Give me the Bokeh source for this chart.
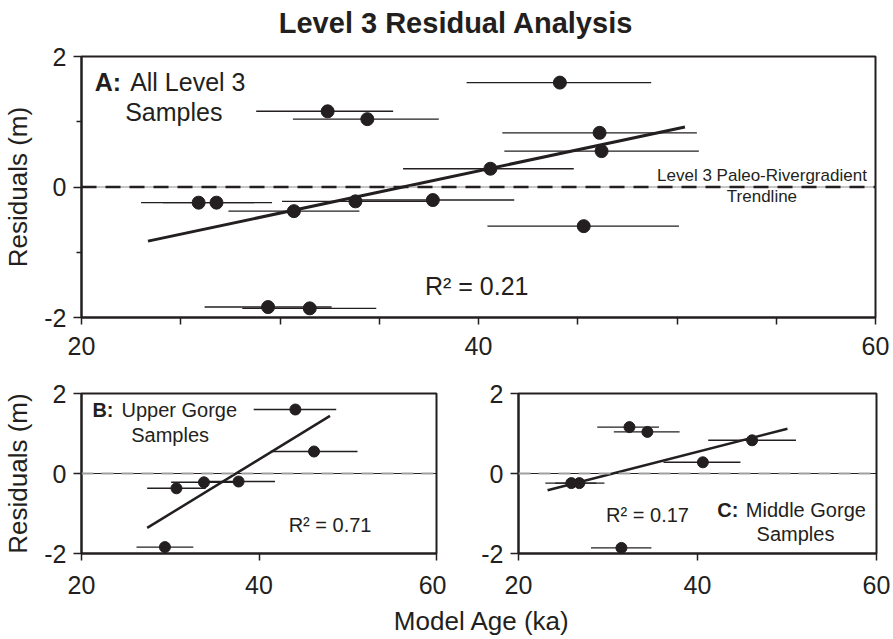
from bokeh.plotting import figure
from bokeh.models import Range1d, FixedTicker, Span, Label, ColumnDataSource
from bokeh.layouts import column, row
from bokeh.embed import file_html
from bokeh.resources import INLINE

FONT = "Liberation Sans"
INK = "#231f20"

# ---- data ----
ages   = [44.1, 32.4, 34.4, 46.1, 46.2, 40.6, 25.9, 26.8, 30.7, 33.8, 37.7, 45.3, 29.4, 31.5]
resid  = [1.60, 1.16, 1.04, 0.83, 0.55, 0.28, -0.24, -0.24, -0.37, -0.22, -0.20, -0.60, -1.84, -1.86]
age_lo = [39.4, 28.8, 30.65, 41.2, 41.3, 36.2, 23.0, 24.1, 27.4, 30.1, 33.5, 40.45, 26.2, 28.1]
age_hi = [48.7, 35.7, 38.0, 51.0, 51.1, 44.8, 28.7, 29.6, 34.0, 37.5, 41.8, 50.1, 32.6, 34.85]
group  = ["upper", "middle", "middle", "middle", "upper", "middle", "middle", "middle",
          "upper", "upper", "upper", "other", "upper", "middle"]

trend_all_x = [23.35, 50.4]
trend_all_y = [-0.83, 0.92]
trend_upper_x = [27.4, 48.0]
trend_upper_y = [-1.36, 1.44]
trend_middle_x = [23.25, 50.05]
trend_middle_y = [-0.42, 1.12]

x_ticks = [20, 40, 60]
x_minor_top = [25, 30, 35, 45, 50, 55]
y_ticks = [-2, 0, 2]
y_minor_top = [-1, 1]
y_tick_labels = {-2: "-2", 0: "0", 2: "2"}


def subset(name):
    idx = [i for i, g in enumerate(group) if g == name]
    return dict(x=[ages[i] for i in idx], y=[resid[i] for i in idx],
                lo=[age_lo[i] for i in idx], hi=[age_hi[i] for i in idx])


def style(p, tick_font, xminor, yminor, xstandoff, ylabel=None):
    p.x_range = Range1d(20, 60)
    p.y_range = Range1d(-2, 2)
    p.xgrid.visible = False
    p.ygrid.visible = False
    p.outline_line_color = INK
    p.outline_line_width = 2
    p.background_fill_color = "white"
    p.border_fill_color = "white"
    p.xaxis.ticker = FixedTicker(ticks=x_ticks, minor_ticks=xminor)
    p.yaxis.ticker = FixedTicker(ticks=y_ticks, minor_ticks=yminor)
    p.yaxis.major_label_overrides = y_tick_labels
    for ax in (p.xaxis[0], p.yaxis[0]):
        ax.axis_line_color = INK
        ax.axis_line_width = 2
        ax.major_tick_line_color = INK
        ax.minor_tick_line_color = INK
        ax.major_tick_line_width = 1.5
        ax.minor_tick_line_width = 1.5
        ax.major_tick_in = 0
        ax.minor_tick_in = 0
        ax.major_label_text_font = FONT
        ax.major_label_text_font_size = tick_font
        ax.major_label_text_color = INK
        ax.axis_label_text_font = FONT
        ax.axis_label_text_font_style = "normal"
        ax.axis_label_text_font_size = "26px"
        ax.axis_label_text_color = INK
    p.xaxis.major_tick_out = 7
    p.xaxis.minor_tick_out = 7
    p.yaxis.major_tick_out = 8
    p.yaxis.minor_tick_out = 5
    p.xaxis.major_label_standoff = xstandoff
    p.yaxis.major_label_standoff = 7
    if ylabel:
        p.yaxis.axis_label = ylabel
        p.yaxis.axis_label_standoff = 8


def draw(p, d, tx, ty, marker_size, trend_w):
    src = ColumnDataSource(d)
    p.segment(x0="lo", y0="y", x1="hi", y1="y", source=src, line_color=INK, line_width=1.4)
    p.line(tx, ty, line_color=INK, line_width=trend_w)
    p.scatter(x="x", y="y", source=src, size=marker_size, fill_color=INK, line_color=INK)


def label(p, x, y, text, size, bold=False, align="left"):
    p.add_layout(Label(x=x, y=y, text=text, text_font=FONT, text_font_size=size,
                       text_font_style="bold" if bold else "normal", text_color=INK,
                       text_align=align, text_baseline="alphabetic"))


def text_strip(height, x, y, text, size, bold=False):
    # the column layout aligns this strip's frame with the panel frame (78..875 px)
    f = figure(width=893, height=height, output_backend="svg", toolbar_location=None,
               x_range=Range1d(78, 875), y_range=Range1d(0, height),
               x_axis_location=None, y_axis_location=None,
               min_border=0, min_border_left=0, min_border_right=0,
               min_border_top=0, min_border_bottom=0)
    f.xgrid.visible = False
    f.ygrid.visible = False
    f.outline_line_color = None
    f.add_layout(Label(x=x, y=y, text=text, text_font=FONT, text_font_size=size,
                       text_font_style="bold" if bold else "normal",
                       text_color=INK, text_align="center", text_baseline="middle"))
    return f


# ---- title strip ----
ptitle = text_strip(40, 454, 18, "Level 3 Residual Analysis", "29px", bold=True)

# ---- top panel A ----
pa = figure(width=893, height=327, output_backend="svg", toolbar_location=None,
            min_border_left=78, min_border_right=18, min_border_top=16, min_border_bottom=50)
style(pa, "25px", x_minor_top, y_minor_top, 12, "Residuals (m)")
pa.add_layout(Span(location=0, dimension="width", line_color="#8a8a8a", line_width=1))
pa.add_layout(Span(location=0, dimension="width", line_color=INK, line_width=2.5,
                   line_dash="15 9"))
draw(pa, dict(x=ages, y=resid, lo=age_lo, hi=age_hi), trend_all_x, trend_all_y, 13, 3)
label(pa, 20.67, 1.61, "A:", "25px", bold=True)
label(pa, 22.45, 1.61, "All Level 3", "25px")
label(pa, 22.2, 1.15, "Samples", "25px")
label(pa, 37.3, -1.52, "R² = 0.21", "25px")
label(pa, 54.28, 0.17, "Level 3 Paleo-Rivergradient", "17px", align="center")
label(pa, 54.28, -0.15, "Trendline", "17px", align="center")

# ---- bottom left panel B ----
pb = figure(width=446, height=238, output_backend="svg", toolbar_location=None,
            min_border_left=79, min_border_right=10, min_border_top=26, min_border_bottom=52)
style(pb, "25px", [], [], 15, "Residuals (m)")
pb.add_layout(Span(location=0, dimension="width", line_color=INK, line_width=1))
pb.add_layout(Span(location=0, dimension="width", line_color="#a0a0a0", line_width=2,
                   line_dash="12 8"))
draw(pb, subset("upper"), trend_upper_x, trend_upper_y, 11, 2.5)
label(pb, 21.23, 1.59, "B:", "20px", bold=True)
label(pb, 24.5, 1.59, "Upper Gorge", "20px")
label(pb, 25.6, 0.97, "Samples", "20px")
label(pb, 43.34, -1.28, "R² = 0.71", "20px")

# ---- bottom right panel C ----
pc = figure(width=447, height=238, output_backend="svg", toolbar_location=None,
            min_border_left=72, min_border_right=17, min_border_top=26, min_border_bottom=52)
style(pc, "25px", [], [], 15)
pc.add_layout(Span(location=0, dimension="width", line_color=INK, line_width=1))
pc.add_layout(Span(location=0, dimension="width", line_color="#a0a0a0", line_width=2,
                   line_dash="12 8"))
draw(pc, subset("middle"), trend_middle_x, trend_middle_y, 11, 2.5)
label(pc, 29.79, -1.04, "R² = 0.17", "20px")
label(pc, 42.2, -0.91, "C:", "20px", bold=True)
label(pc, 45.4, -0.91, "Middle Gorge", "20px")
label(pc, 46.6, -1.51, "Samples", "20px")

# ---- shared x-axis title ----
pxlab = text_strip(34, 480, 19, "Model Age (ka)", "26px")

layout = column(ptitle, pa, row(pb, pc), pxlab)
open("out.html", "w").write(file_html(layout, INLINE))
